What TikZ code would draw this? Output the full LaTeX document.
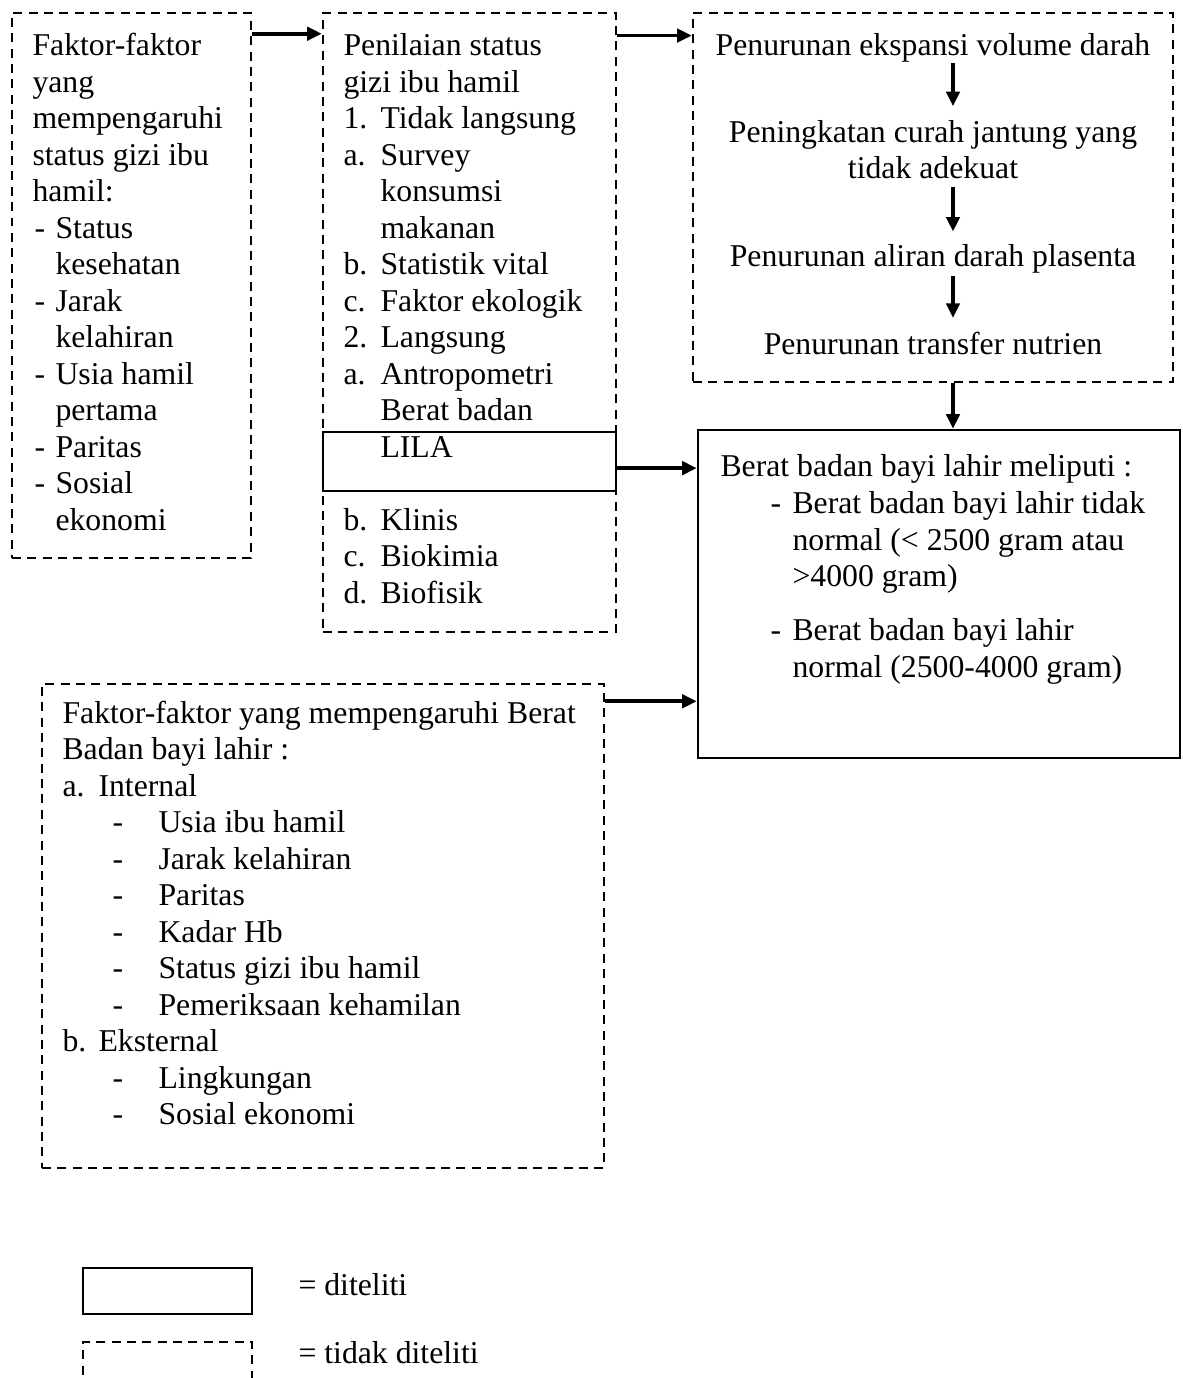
\documentclass[tikz,border=0pt]{standalone}
\usepackage{fontspec}
\setmainfont{Liberation Serif}
\usetikzlibrary{arrows.meta,fit}

\begin{document}
\begin{tikzpicture}[x=0.378pt,y=-0.378pt]
  \tikzset{box/.style = {draw, line width=0.95pt, inner sep=0pt}}
  \tikzset{dbox/.style = {box, dash pattern=on 3.4pt off 2.4pt}}
  \tikzset{txt/.style = {inner sep=0pt, anchor=base west, font=\fontsize{12pt}{13.8pt}\selectfont}}
  \tikzset{ctxt/.style = {txt, anchor=base}}
  \tikzset{link/.style = {-{Triangle[length=5.5pt,width=5pt]}, line width=1.4pt}}

\useasboundingbox (0,0) rectangle (1183,1378);

% kotak
\node[dbox, fit={(12,13) (251,558)}] (faktor) {};
\node[dbox, fit={(323,13) (616,632)}] (nilai) {};
\node[dbox, fit={(693,13) (1173,382)}] (proses) {};
\node[box, fit={(698,430) (1180,758)}] (bblahir) {};
\node[box, fit={(323,432) (616,491)}] (lila) {};
\node[dbox, fit={(42,684) (604,1168)}] (faktorbb) {};

% teks
\foreach \x/\k/\t [count=\i] in {32/0/Faktor-faktor, 32/1/yang, 32/2/mempengaruhi,
    32/3/status gizi ibu, 32/4/hamil:, 34/5/-, 55/5/Status, 55/6/kesehatan,
    34/7/-, 55/7/Jarak, 55/8/kelahiran, 34/9/-, 55/9/Usia hamil, 55/10/pertama,
    34/11/-, 55/11/Paritas, 34/12/-, 55/12/Sosial, 55/13/ekonomi}
  \node[txt] (fa\i) at (\x, 55.5+36.5*\k) {\t};

\foreach \x/\k/\t [count=\i] in {343/0/Penilaian status, 343/1/gizi ibu hamil,
    343/2/1., 380/2/Tidak langsung, 343/3/a., 380/3/Survey, 380/4/konsumsi,
    380/5/makanan, 343/6/b., 380/6/Statistik vital, 343/7/c., 380/7/Faktor ekologik,
    343/8/2., 380/8/Langsung, 343/9/a., 380/9/Antropometri, 380/10/Berat badan,
    380/11/LILA, 343/13/b., 380/13/Klinis, 343/14/c., 380/14/Biokimia,
    343/15/d., 380/15/Biofisik}
  \node[txt] (ni\i) at (\x, 55.5+36.5*\k) {\t};

\node[ctxt] (c1) at (933,55.5) {Penurunan ekspansi volume darah};
\node[ctxt] (c2) at (933,142) {Peningkatan curah jantung yang};
\node[ctxt] (c3) at (933,178.5) {tidak adekuat};
\node[ctxt] (c4) at (933,266) {Penurunan aliran darah plasenta};
\node[ctxt] (c5) at (933,354) {Penurunan transfer nutrien};

\foreach \x/\y/\t [count=\i] in {720/476/Berat badan bayi lahir meliputi :,
    770/513/-, 792/513/Berat badan bayi lahir tidak, 792/550/normal (< 2500 gram atau,
    792/586/>4000 gram), 770/640/-, 792/640/Berat badan bayi lahir,
    792/677/normal (2500-4000 gram)}
  \node[txt] (bb\i) at (\x,\y) {\t};

\foreach \x/\k/\t [count=\i] in {62/0/Faktor-faktor yang mempengaruhi Berat,
    62/1/Badan bayi lahir :, 62/2/a., 98/2/Internal, 112/3/-, 158/3/Usia ibu hamil,
    112/4/-, 158/4/Jarak kelahiran, 112/5/-, 158/5/Paritas, 112/6/-, 158/6/Kadar Hb,
    112/7/-, 158/7/Status gizi ibu hamil, 112/8/-, 158/8/Pemeriksaan kehamilan,
    62/9/b., 98/9/Eksternal, 112/10/-, 158/10/Lingkungan, 112/11/-, 158/11/Sosial ekonomi}
  \node[txt] (fb\i) at (\x, 723+36.5*\k) {\t};

% panah
\coordinate (cx) at (953,0);
\coordinate (a1) at ([yshift=-8.3pt]faktor.north east);
\coordinate (b1) at ([yshift=-9pt]nilai.north east);
\coordinate (l1) at ([yshift=-2.5pt]lila.east);
\coordinate (e1) at ([yshift=-7pt]faktorbb.north east);

\draw[link] (a1) -- (a1 -| nilai.west);
\draw[link] (b1) -- (b1 -| proses.west);
\draw[link, shorten >=5pt] (c1.south -| cx) -- (c2.north -| cx);
\draw[link, shorten <=3pt, shorten >=4.5pt] (c3.south -| cx) -- (c4.north -| cx);
\draw[link, shorten <=1pt, shorten >=5pt] (c4.south -| cx) -- (c5.north -| cx);
\draw[link] (proses.south -| cx) -- (bblahir.north -| cx);
\draw[link] (l1) -- (l1 -| bblahir.west);
\draw[link] (e1) -- (e1 -| bblahir.west);

% keterangan
\node[box, fit={(83,1268) (252,1314)}] (legdit) {};
\node[txt] (legdit t) at (298,1295) {= diteliti};
\node[dbox, fit={(83,1342) (252,1410)}] (legtdk) {};
\node[txt] (legtdk t) at (298,1363) {= tidak diteliti};

\end{tikzpicture}
\end{document}
